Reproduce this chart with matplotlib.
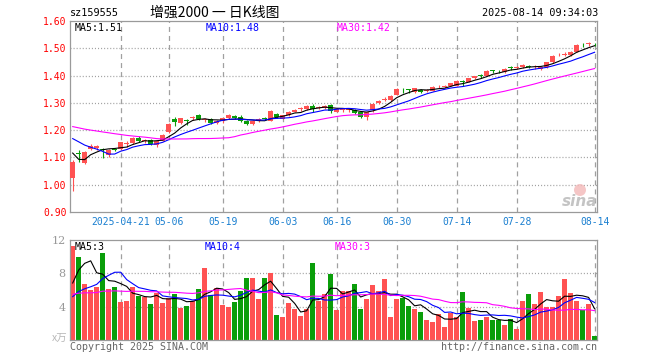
import numpy as np
import matplotlib
matplotlib.use("Agg")
import matplotlib.pyplot as plt
from matplotlib.patches import Ellipse

plt.rcParams['lines.scale_dashes'] = False

# ---------------- data ----------------
open_ = [1.025, 1.118, 1.080, 1.131, 1.133, 1.130, 1.108, 1.130, 1.130, 1.151,
         1.154, 1.172, 1.160, 1.165, 1.144, 1.162, 1.193, 1.242, 1.227, 1.238,
         1.245, 1.256, 1.238, 1.242, 1.226, 1.235, 1.245, 1.253, 1.247, 1.233,
         1.221, 1.234, 1.243, 1.235, 1.260, 1.242, 1.256, 1.268, 1.277, 1.278,
         1.290, 1.283, 1.282, 1.293, 1.268, 1.274, 1.274, 1.272, 1.266, 1.247,
         1.272, 1.298, 1.312, 1.312, 1.330, 1.352, 1.350, 1.339, 1.348, 1.344,
         1.345, 1.361, 1.360, 1.363, 1.363, 1.381, 1.378, 1.390, 1.402, 1.400,
         1.419, 1.418, 1.412, 1.430, 1.428, 1.430, 1.436, 1.430, 1.424, 1.430,
         1.450, 1.474, 1.477, 1.475, 1.488, 1.517, 1.516, 1.517]
close = [1.083, 1.112, 1.120, 1.141, 1.142, 1.126, 1.128, 1.127, 1.155, 1.154,
         1.172, 1.162, 1.162, 1.150, 1.160, 1.184, 1.223, 1.229, 1.244, 1.235,
         1.247, 1.242, 1.240, 1.226, 1.233, 1.243, 1.255, 1.243, 1.233, 1.221,
         1.235, 1.242, 1.241, 1.270, 1.247, 1.254, 1.268, 1.275, 1.279, 1.290,
         1.278, 1.285, 1.290, 1.270, 1.278, 1.276, 1.276, 1.263, 1.250, 1.266,
         1.297, 1.308, 1.314, 1.324, 1.351, 1.350, 1.348, 1.353, 1.339, 1.346,
         1.359, 1.363, 1.362, 1.371, 1.381, 1.375, 1.390, 1.397, 1.400, 1.418,
         1.417, 1.415, 1.424, 1.428, 1.430, 1.440, 1.433, 1.432, 1.432, 1.448,
         1.472, 1.476, 1.479, 1.487, 1.512, 1.515, 1.518, 1.515]
high = [1.090, 1.128, 1.124, 1.150, 1.146, 1.136, 1.132, 1.134, 1.158, 1.162,
        1.175, 1.178, 1.168, 1.168, 1.162, 1.186, 1.226, 1.250, 1.246, 1.242,
        1.252, 1.260, 1.246, 1.245, 1.236, 1.246, 1.258, 1.256, 1.256, 1.238,
        1.238, 1.245, 1.248, 1.272, 1.262, 1.257, 1.270, 1.278, 1.285, 1.293,
        1.295, 1.290, 1.292, 1.296, 1.280, 1.282, 1.282, 1.276, 1.268, 1.268,
        1.300, 1.310, 1.320, 1.327, 1.355, 1.354, 1.352, 1.355, 1.352, 1.350,
        1.361, 1.367, 1.366, 1.374, 1.383, 1.384, 1.392, 1.399, 1.405, 1.420,
        1.422, 1.420, 1.426, 1.434, 1.436, 1.442, 1.440, 1.438, 1.434, 1.450,
        1.474, 1.482, 1.485, 1.490, 1.514, 1.520, 1.522, 1.520]
low = [0.978, 1.083, 1.076, 1.126, 1.128, 1.098, 1.100, 1.122, 1.127, 1.140,
       1.150, 1.155, 1.152, 1.146, 1.140, 1.160, 1.190, 1.215, 1.224, 1.220,
       1.236, 1.238, 1.230, 1.222, 1.222, 1.226, 1.242, 1.240, 1.230, 1.218,
       1.218, 1.230, 1.236, 1.232, 1.244, 1.240, 1.253, 1.265, 1.270, 1.275,
       1.268, 1.278, 1.278, 1.262, 1.265, 1.265, 1.268, 1.258, 1.246, 1.238,
       1.268, 1.295, 1.306, 1.308, 1.328, 1.336, 1.335, 1.336, 1.336, 1.338,
       1.342, 1.356, 1.355, 1.360, 1.360, 1.360, 1.375, 1.387, 1.392, 1.398,
       1.410, 1.408, 1.410, 1.422, 1.424, 1.427, 1.426, 1.425, 1.420, 1.428,
       1.447, 1.470, 1.472, 1.472, 1.486, 1.505, 1.510, 1.510]
volume = [11.3, 9.96, 6.72, 6.0, 6.36, 10.44, 6.12, 6.36, 4.56, 4.68,
          6.36, 5.28, 5.16, 4.32, 5.64, 4.44, 5.04, 5.52, 3.88, 4.08,
          4.68, 6.12, 8.64, 5.4, 6.24, 4.2, 3.96, 4.56, 5.88, 7.44,
          7.44, 4.92, 7.44, 8.04, 3.0, 2.76, 4.44, 3.72, 2.88, 3.72,
          9.24, 4.68, 5.52, 7.92, 3.6, 5.88, 5.88, 6.72, 3.72, 4.92,
          6.6, 5.88, 7.32, 2.76, 4.92, 5.04, 4.08, 3.72, 3.36, 2.4,
          2.16, 3.12, 1.56, 3.24, 2.76, 5.76, 3.84, 2.28, 2.4, 2.76,
          2.4, 2.4, 1.8, 2.52, 1.32, 4.68, 5.52, 4.32, 5.76, 3.96,
          3.96, 5.28, 7.32, 5.64, 4.68, 3.6, 4.32, 0.48]
# closes / volumes before the visible window (implied by the MA lines' start)
prior_close = [1.25, 1.26, 1.25, 1.24, 1.23, 1.22, 1.23, 1.24, 1.25, 1.24,
               1.23, 1.22, 1.23, 1.24, 1.23, 1.22, 1.23, 1.24, 1.23, 1.22,
               1.23, 1.24, 1.22, 1.21, 1.21, 1.227, 1.125, 1.051, 1.094]
prior_volume = [5.8, 5.5, 6.0, 5.2, 5.6, 5.9, 5.4, 5.7, 5.5, 5.6,
                5.8, 5.3, 5.6, 5.9, 5.5, 5.7, 5.6, 5.4, 5.8, 5.6,
                3.8, 3.4, 3.6, 3.5, 3.5, 2.16, 2.72, 4.5, 13.52]

tick_index = [8, 16, 25, 35, 44, 54, 64, 74, 87]
tick_labels = ["2025-04-21", "05-06", "05-19", "06-03", "06-16",
               "06-30", "07-14", "07-28", "08-14"]
price_ticks = [0.90, 1.00, 1.10, 1.20, 1.30, 1.40, 1.50, 1.60]
vol_ticks = [4, 8, 12]
price_ma_labels = ["MA5:1.51", "MA10:1.48", "MA30:1.42"]
vol_ma_labels = ["MA5:3", "MA10:4", "MA30:3"]
code = "sz159555"
title = "增强2000 一 日K线图"
stamp = "2025-08-14 09:34:03"

# ---------------- styling ----------------
RED = "#ff5252"
GREEN = "#0a9e0a"
MA_COLORS = ["black", "#0000ff", "#ff00ff"]
GRID = "#a0a0a0"
FRAME = "#9a9a9a"
MONO = "DejaVu Sans Mono"

W, H = 660, 360
fig = plt.figure(figsize=(6.6, 3.6), dpi=100)
fig.patch.set_facecolor("white")


def fx(px):
    return px / W


def fy(py):
    return 1 - py / H


L, R = 70, 597
ax = fig.add_axes([fx(L), fy(212), fx(R) - fx(L), fy(21) - fy(212)])
axv = fig.add_axes([fx(L), fy(340), fx(R) - fx(L), fy(240) - fy(340)])

o = np.array(open_)
c = np.array(close)
hi = np.array(high)
lo = np.array(low)
v = np.array(volume)
n = len(c)
x = np.arange(n)
cols = np.where(c >= o, RED, GREEN)


def rolling(prior, vals, k):
    full = np.concatenate([np.array(prior), vals])
    out = np.convolve(full, np.ones(k) / k, mode="valid")
    return out[-len(vals):]


# ---- price panel ----
for yv in price_ticks[1:-1]:
    ax.axhline(yv, color=GRID, lw=0.9, ls=(0, (0.75, 1.45)), zorder=0)
for ti in tick_index:
    ax.axvline(ti, color=GRID, lw=0.9, ls=(0, (3.6, 2.9)), zorder=0)

ax.vlines(x, lo, hi, colors=cols, lw=0.8, zorder=2)
mind = 0.0028
bh = np.maximum(np.abs(c - o), mind)
bb = np.minimum(o, c) - (bh - np.abs(c - o)) / 2
ax.bar(x, bh, bottom=bb, width=0.74, color=cols, lw=0, zorder=3)

for k, col in zip([5, 10, 30], MA_COLORS):
    ax.plot(x, rolling(prior_close, c, k), color=col, lw=0.8, zorder=4)

ax.set_xlim(-0.45, 87.4)
ax.set_ylim(0.90, 1.60)
ax.set_yticks(price_ticks)
ax.set_yticklabels([f"{t:.2f}" for t in price_ticks], color="red",
                   fontsize=7.0, family=MONO)
ax.set_xticks(tick_index)
ax.set_xticklabels(tick_labels, color="#1a7fd0", fontsize=7.0, family=MONO)
ax.tick_params(axis="both", length=0)
ax.tick_params(axis="y", pad=2.5)
ax.tick_params(axis="x", pad=3.8)

# ---- volume panel ----
for yv in [4, 8]:
    axv.axhline(yv, color=GRID, lw=0.9, ls=(0, (0.75, 1.45)), zorder=0)
for ti in tick_index:
    axv.axvline(ti, color=GRID, lw=0.9, ls=(0, (3.6, 2.9)), zorder=0)
axv.bar(x, v, width=0.88, color=cols, lw=0, zorder=2)
for k, col in zip([5, 10, 30], MA_COLORS):
    axv.plot(x, rolling(prior_volume, v, k), color=col, lw=0.8, zorder=4)
axv.set_xlim(-0.45, 87.4)
axv.set_ylim(0, 12)
axv.set_xticks([])
axv.set_yticks(vol_ticks)
axv.set_yticklabels([str(t) for t in vol_ticks], color="#999999",
                    fontsize=8, family="DejaVu Serif")
axv.tick_params(axis="both", length=0, pad=3)

for a in (ax, axv):
    a.set_facecolor("white")
    for s in a.spines.values():
        s.set_color(FRAME)
        s.set_linewidth(0.9)

# ---- texts ----
fig.text(fx(70), fy(13), code, fontsize=7.3, family=MONO, va="center", ha="left")
fig.text(fx(215), fy(13), title, fontsize=10,
         family=["Noto Sans CJK SC", "DejaVu Sans"], va="center", ha="center")
fig.text(fx(598), fy(13), stamp, fontsize=7.3, family=MONO, va="center",
         ha="right")

for lab, px, col in zip(price_ma_labels, [75, 206, 337], MA_COLORS):
    fig.text(fx(px), fy(28), lab, fontsize=7.1, family=MONO, color=col,
             va="center", ha="left")
for lab, px, col in zip(vol_ma_labels, [75, 205, 335], MA_COLORS):
    fig.text(fx(px), fy(247), lab, fontsize=7.1, family=MONO, color=col,
             va="center", ha="left")

fig.text(fx(67), fy(339), "x万", fontsize=7.5, color="#b8b8b8",
         family=["Noto Sans CJK SC", "DejaVu Sans"], va="center", ha="right")
fig.text(fx(70), fy(347), "Copyright 2025 SINA.COM", fontsize=7.2,
         family=MONO, color="#666666", va="center", ha="left")
fig.text(fx(597), fy(347), "http://finance.sina.com.cn", fontsize=7.2,
         family=MONO, color="#666666", va="center", ha="right")

# sina watermark
fig.patches.append(Ellipse((fx(580), fy(190)), 12 / W, 12 / H,
                           transform=fig.transFigure, facecolor="#f3b8b8",
                           edgecolor="none", alpha=0.8, zorder=5))
fig.text(fx(580), fy(201), "sina", fontsize=11, style="italic",
         weight="bold", color="#c4c4c4", va="center", ha="center", zorder=6)

fig.savefig("out.png", dpi=100, facecolor="white")
